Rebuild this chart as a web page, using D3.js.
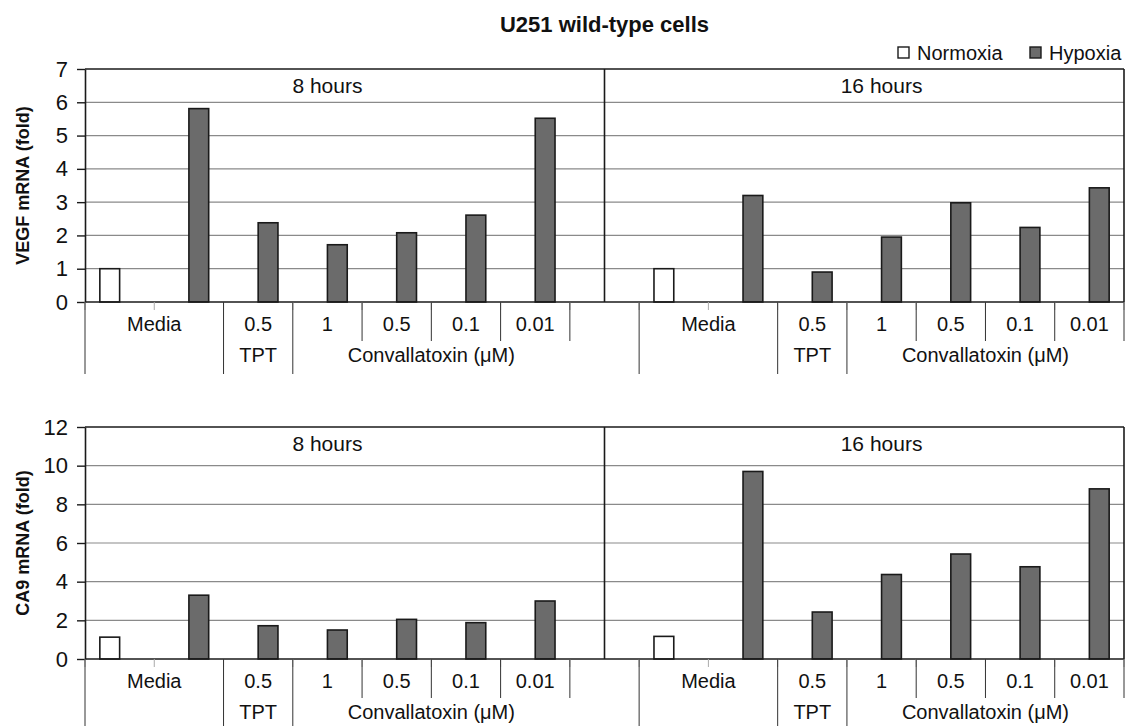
<!DOCTYPE html>
<html>
<head>
<meta charset="utf-8">
<script src="https://cdn.jsdelivr.net/npm/d3@7"></script>
<style>
  body { margin: 0; background: #fff; }
  svg text { font-family: "Liberation Sans", Arial, sans-serif; fill: #111; }
</style>
</head>
<body>
<div id="chart"></div>
<script>
// values
const timepoints = ["8 hours", "16 hours"];
const series = ["Normoxia", "Hypoxia"];
const upperLabels = ["Media", "0.5", "1", "0.5", "0.1", "0.01"];
const lowerLabels = ["TPT", "Convallatoxin (\u03bcM)"];

// normoxia media control, one per timepoint
const vegfNormoxia = [1.0, 1.0];
const vegfHypoxia8 = [5.81, 2.38, 1.72, 2.08, 2.61, 5.52];
const vegfHypoxia16 = [3.2, 0.9, 1.95, 2.98, 2.24, 3.43];
const ca9Normoxia = [1.13, 1.17];
const ca9Hypoxia8 = [3.3, 1.72, 1.5, 2.05, 1.88, 3.0];
const ca9Hypoxia16 = [9.7, 2.43, 4.37, 5.43, 4.77, 8.8];

const vegfTicks = [0, 1, 2, 3, 4, 5, 6, 7];
const ca9Ticks = [0, 2, 4, 6, 8, 10, 12];

var width = 1125, height = 726;
var plotLeft = 85, plotRight = 1124;

var svg = d3
  .select("#chart")
  .append("svg")
  .attr("width", width)
  .attr("height", height);

// 7 slots per timepoint plus one empty slot between them
let slots = [];
timepoints.forEach((t, ti) => {
  for (let i = 0; i < 7; i++) slots.push(ti + "-" + i);
  if (ti == 0) slots.push("gap");
});

var x = d3.scaleBand().domain(slots).range([plotLeft, plotRight]).padding(0);
var xSeries = d3
  .scaleBand()
  .domain(series)
  .range([0, x.bandwidth()])
  .paddingInner(0)
  .paddingOuter(0.75);

function slotLeft(ti, i) {
  return x(ti + "-" + i);
}

function drawPanel(top, bottom, ticks, normoxia, hypoxia, yTitle) {
  var g = svg.append("g");
  var y = d3.scaleLinear().domain([0, d3.max(ticks)]).range([bottom, top]);

  // gridlines
  g.selectAll(".grid")
    .data(ticks.slice(1, -1))
    .enter()
    .append("line")
    .attr("x1", plotLeft)
    .attr("x2", plotRight)
    .attr("y1", (d) => y(d))
    .attr("y2", (d) => y(d))
    .style("stroke", "#8a8a8a")
    .style("stroke-width", 1.2);

  // bars
  let bars = [];
  timepoints.forEach((t, ti) => {
    bars.push({ slot: ti + "-0", s: "Normoxia", v: normoxia[ti] });
    hypoxia[ti].forEach((v, i) => bars.push({ slot: ti + "-" + (i + 1), s: "Hypoxia", v: v }));
  });
  g.selectAll(".bar")
    .data(bars)
    .enter()
    .append("rect")
    .attr("x", (d) => x(d.slot) + xSeries(d.s))
    .attr("width", xSeries.bandwidth())
    .attr("y", (d) => y(d.v))
    .attr("height", (d) => y(0) - y(d.v))
    .style("fill", (d) => (d.s == "Hypoxia" ? "#6b6b6b" : "#fff"))
    .style("stroke", "#1a1a1a")
    .style("stroke-width", 1.6);

  // frame: top, right and the divider between timepoints
  var divX = x("gap") + x.bandwidth() / 2;
  g.append("line").attr("x1", plotLeft).attr("x2", plotRight).attr("y1", y.range()[1]).attr("y2", y.range()[1])
    .style("stroke", "#1a1a1a").style("stroke-width", 1.6);
  [divX, plotRight].forEach((xx) => {
    g.append("line").attr("x1", xx).attr("x2", xx).attr("y1", top).attr("y2", bottom)
      .style("stroke", "#1a1a1a").style("stroke-width", 1.6);
  });
  g.append("line").attr("x1", plotLeft).attr("x2", plotRight).attr("y1", bottom).attr("y2", bottom)
    .style("stroke", "#1a1a1a").style("stroke-width", 1.6);

  // y axis
  var axis = g
    .append("g")
    .attr("transform", "translate(" + plotLeft + ",0)")
    .call(d3.axisLeft(y).tickValues(ticks).tickFormat(d3.format("d")).tickSize(8).tickSizeOuter(0).tickPadding(9));
  axis.select(".domain").style("stroke", "#1a1a1a").style("stroke-width", 1.6);
  axis.selectAll(".tick line").style("stroke", "#1a1a1a").style("stroke-width", 1.4);
  axis.selectAll(".tick text").style("font-size", "22px").style("fill", "#111");

  g.append("text")
    .attr("transform", "translate(23," + (top + bottom) / 2 + ") rotate(-90)")
    .attr("text-anchor", "middle")
    .attr("dy", "0.35em")
    .style("font-size", "18px")
    .style("font-weight", "bold")
    .text(yTitle);

  // category ticks and the label table below the axis
  var row1 = bottom + 22, row2 = bottom + 53;
  var shortEnd = bottom + 39, longEnd = bottom + 72;
  g.selectAll(".cattick")
    .data(d3.range(slots.length + 1))
    .enter()
    .append("line")
    .attr("x1", (i) => plotLeft + i * x.step())
    .attr("x2", (i) => plotLeft + i * x.step())
    .attr("y1", bottom)
    .attr("y2", bottom + 8)
    .style("stroke", "#aaa");

  timepoints.forEach((t, ti) => {
    var bw = x.bandwidth();
    var left = slotLeft(ti, 0);
    var right = slotLeft(ti, 6) + bw;

    g.append("text")
      .attr("x", (left + right) / 2)
      .attr("y", top + 17)
      .attr("dy", "0.35em")
      .attr("text-anchor", "middle")
      .style("font-size", "21px")
      .text(t);

    var seps = [
      { x: left, end: longEnd },
      { x: slotLeft(ti, 2), end: longEnd },
      { x: slotLeft(ti, 3), end: longEnd },
      { x: slotLeft(ti, 4), end: shortEnd },
      { x: slotLeft(ti, 5), end: shortEnd },
      { x: slotLeft(ti, 6), end: shortEnd },
      { x: right, end: shortEnd },
    ];
    g.selectAll(".sep" + ti)
      .data(seps)
      .enter()
      .append("line")
      .attr("x1", (d) => d.x)
      .attr("x2", (d) => d.x)
      .attr("y1", bottom)
      .attr("y2", (d) => d.end)
      .style("stroke", "#333")
      .style("stroke-width", 1);

    // upper row: Media spans the first two slots
    var upperPos = [(left + slotLeft(ti, 2)) / 2];
    for (let i = 2; i < 7; i++) upperPos.push(slotLeft(ti, i) + bw / 2);
    g.selectAll(".up" + ti)
      .data(upperLabels)
      .enter()
      .append("text")
      .attr("x", (d, i) => upperPos[i])
      .attr("y", row1)
      .attr("dy", "0.35em")
      .attr("text-anchor", "middle")
      .style("font-size", "20px")
      .text((d) => d);

    var lowerPos = [slotLeft(ti, 2) + bw / 2, (slotLeft(ti, 3) + right) / 2];
    g.selectAll(".low" + ti)
      .data(lowerLabels)
      .enter()
      .append("text")
      .attr("x", (d, i) => lowerPos[i])
      .attr("y", row2)
      .attr("dy", "0.35em")
      .attr("text-anchor", "middle")
      .style("font-size", "20px")
      .text((d) => d);
  });
}

drawPanel(69, 302, vegfTicks, vegfNormoxia, [vegfHypoxia8, vegfHypoxia16], "VEGF mRNA (fold)");
drawPanel(427, 659, ca9Ticks, ca9Normoxia, [ca9Hypoxia8, ca9Hypoxia16], "CA9 mRNA (fold)");

// title
svg.append("text")
  .attr("x", (plotLeft + plotRight) / 2)
  .attr("y", 32)
  .attr("text-anchor", "middle")
  .style("font-size", "22px")
  .style("font-weight", "bold")
  .text("U251 wild-type cells");

// legend
var legendX = [898, 1030];
var legend = svg
  .selectAll(".legend")
  .data(series)
  .enter()
  .append("g")
  .attr("transform", (d, i) => "translate(" + legendX[i] + ",47)");
legend
  .append("rect")
  .attr("width", 11)
  .attr("height", 11)
  .style("fill", (d) => (d == "Hypoxia" ? "#6b6b6b" : "#fff"))
  .style("stroke", "#1a1a1a")
  .style("stroke-width", 1.4);
legend
  .append("text")
  .attr("x", 19)
  .attr("y", 6)
  .attr("dy", "0.35em")
  .style("font-size", "20px")
  .text((d) => d);
</script>
</body>
</html>
